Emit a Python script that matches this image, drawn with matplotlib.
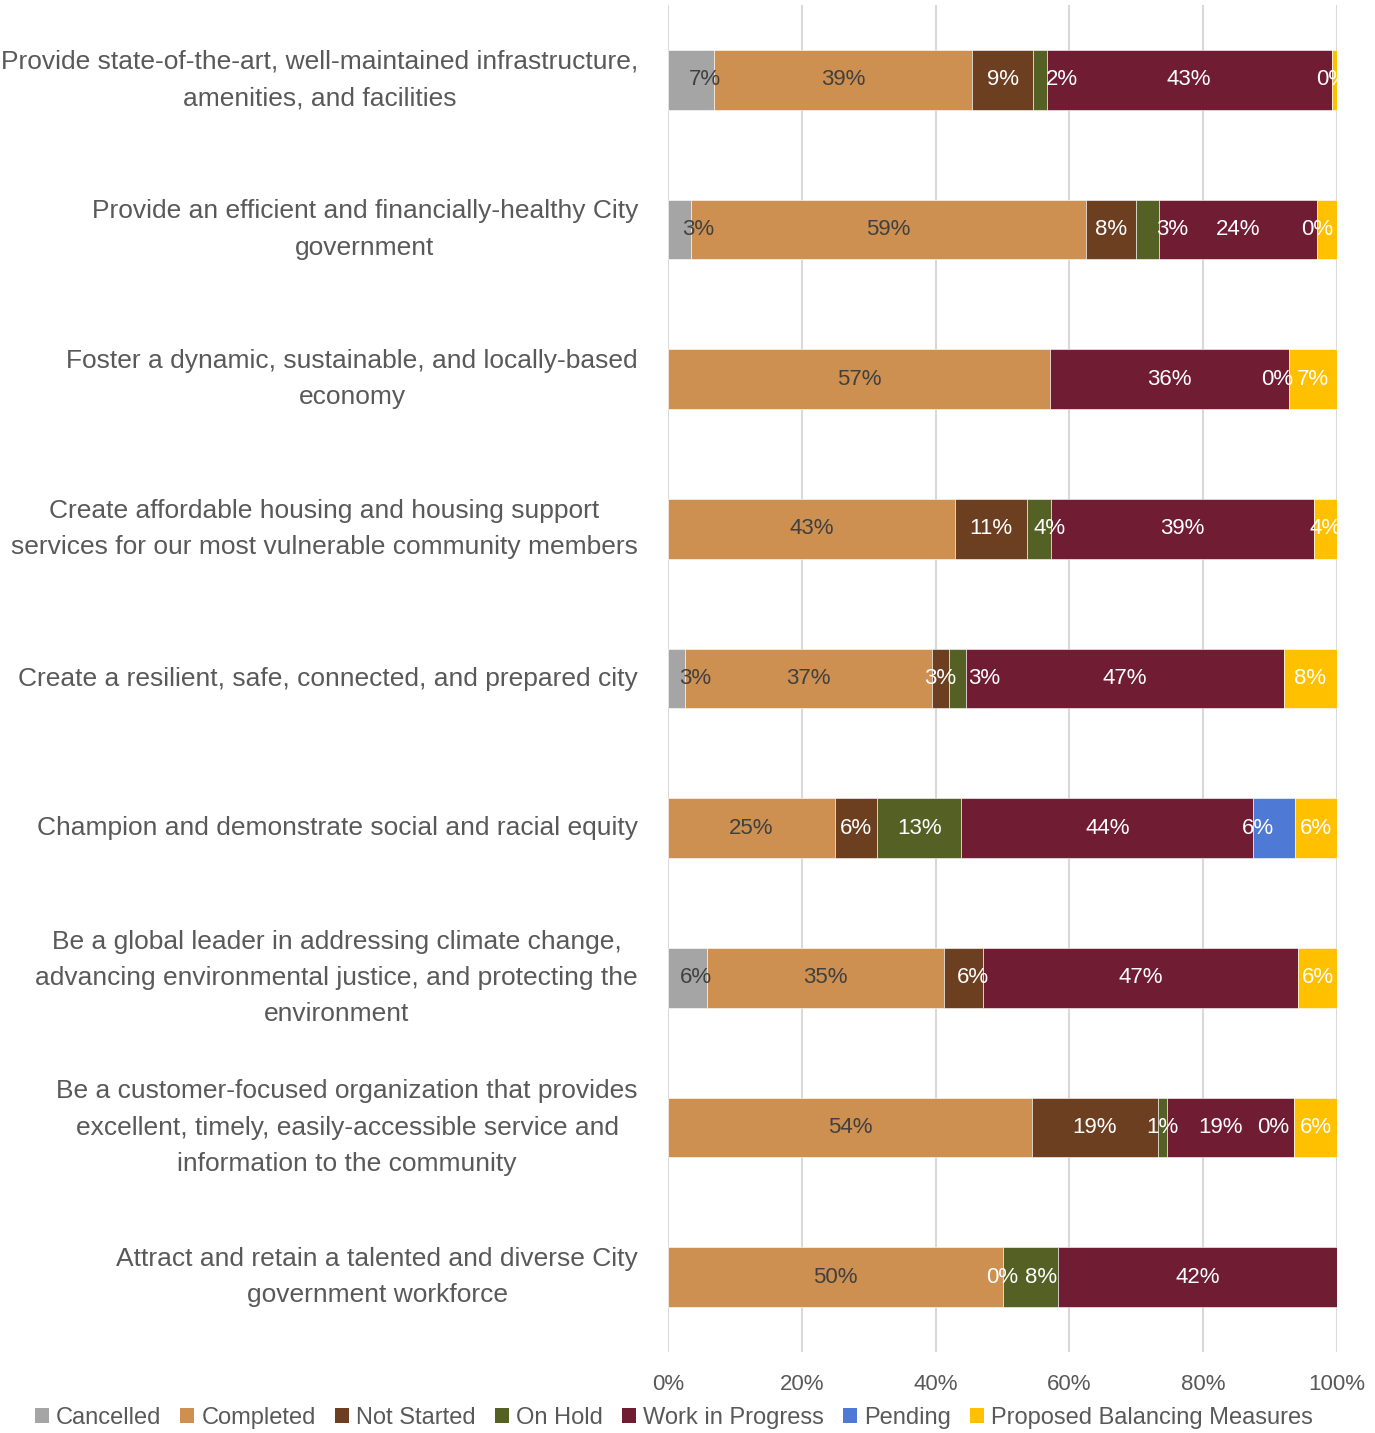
import matplotlib
matplotlib.use("Agg")
import matplotlib.pyplot as plt
from matplotlib.patches import Patch

plt.rcParams['font.family'] = ['Liberation Sans', 'DejaVu Sans']

categories = [
    "Provide state-of-the-art, well-maintained infrastructure,\namenities, and facilities",
    "Provide an efficient and financially-healthy City\ngovernment",
    "Foster a dynamic, sustainable, and locally-based\neconomy",
    "Create affordable housing and housing support\nservices for our most vulnerable community members",
    "Create a resilient, safe, connected, and prepared city",
    "Champion and demonstrate social and racial equity",
    "Be a global leader in addressing climate change,\nadvancing environmental justice, and protecting the\nenvironment",
    "Be a customer-focused organization that provides\nexcellent, timely, easily-accessible service and\ninformation to the community",
    "Attract and retain a talented and diverse City\ngovernment workforce",
]

series_names = ['Cancelled', 'Completed', 'Not Started', 'On Hold',
                'Work in Progress', 'Pending', 'Proposed Balancing Measures']

cancelled = [6.9, 3.4, 0, 0, 2.6, 0, 5.9, 0, 0]
completed = [38.6, 59.1, 57.1, 42.9, 36.8, 25.0, 35.3, 54.4, 50.0]
not_started = [9.0, 7.5, 0, 10.7, 2.6, 6.25, 5.9, 18.8, 0]
on_hold = [2.1, 3.4, 0, 3.6, 2.6, 12.6, 0, 1.4, 8.3]
wip = [42.6, 23.6, 35.7, 39.3, 47.4, 43.65, 47.1, 19.0, 41.7]
pending = [0, 0, 0, 0, 0, 6.25, 0, 0, 0]
proposed = [0.8, 3.0, 7.2, 3.5, 8.0, 6.25, 5.8, 6.4, 0]

# (row, series) pairs: zero labels that are shown, labels that are hidden
zero_labels = [(0, 5), (1, 5), (2, 5), (7, 5), (8, 2)]
hidden_labels = [(0, 6), (1, 6)]
# labels that were dragged sideways in the original (in % units)
nudges = {(0, 0): 2.0, (1, 0): 2.8, (4, 0): 2.7, (6, 0): 1.3,
          (0, 3): 3.4, (1, 3): 3.6, (3, 3): 1.6, (4, 3): 4.0,
          (6, 2): 1.5, (7, 4): -1.5, (7, 5): -3.1, (2, 5): -1.8,
          (5, 5): -2.4, (8, 3): 1.6}

colors = ['#A5A5A5', '#CD9051', '#6D3F21', '#546024', '#701D34', '#4E7AD6', '#FFC000']
label_colors = ['#404040', '#404040', 'white', 'white', 'white', 'white', 'white']

data = [cancelled, completed, not_started, on_hold, wip, pending, proposed]

fig = plt.figure(figsize=(13.75, 14.33), dpi=100)
ax = fig.add_axes([0.4858, 0.0565, 0.4866, 0.94])

y = list(range(len(categories)))
left = [0.0] * len(categories)
for s, vals in enumerate(data):
    ax.barh(y, vals, left=left, height=0.4, color=colors[s],
            edgecolor='white', linewidth=0.4, label=series_names[s], zorder=2)
    for i, v in enumerate(vals):
        if (i, s) in hidden_labels:
            continue
        if v > 0 or (i, s) in zero_labels:
            xpos = left[i] + v / 2 + nudges.get((i, s), 0)
            ax.text(xpos, i, f"{v:.0f}%", ha='center', va='center',
                    fontsize=16, color=label_colors[s], zorder=3)
    left = [l + v for l, v in zip(left, vals)]

ax.set_xlim(0, 100)
ax.set_ylim(len(categories) - 0.5, -0.5)
ax.set_xticks([0, 20, 40, 60, 80, 100])
ax.set_xticklabels([f"{t}%" for t in [0, 20, 40, 60, 80, 100]])
ax.set_yticks(y)
ax.set_yticklabels(categories, multialignment='center', linespacing=1.65, va='center')
ax.tick_params(axis='y', length=0, pad=21.6, labelsize=19, labelcolor='#595959')
ax.tick_params(axis='x', length=0, pad=16, labelsize=16, labelcolor='#595959')
ax.grid(axis='x', color='#D9D9D9', linewidth=1.5, zorder=0)
for sp in ax.spines.values():
    sp.set_visible(False)

handles = [Patch(facecolor=c, label=n) for c, n in zip(colors, series_names)]
fig.legend(handles=handles, loc='center', bbox_to_anchor=(0.49, 0.0105),
           ncol=7, frameon=False, fontsize=17, handlelength=0.6, handleheight=0.6,
           handletextpad=0.3, columnspacing=0.8, labelcolor='#595959',
           borderpad=0, borderaxespad=0)

fig.savefig("out.png", dpi=100)
